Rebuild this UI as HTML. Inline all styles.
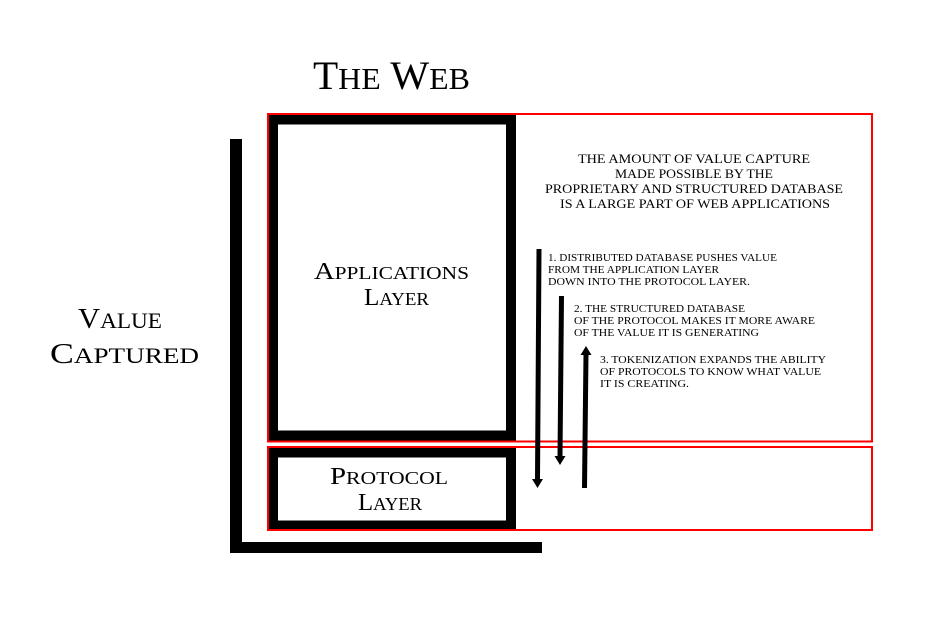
<!DOCTYPE html>
<html><head><meta charset="utf-8"><style>
html,body{margin:0;padding:0;background:#fff;}
svg{display:block;}
text{font-family:"Liberation Serif",serif;fill:#000;}
</style></head><body>
<svg width="935" height="642" viewBox="0 0 935 642" xmlns="http://www.w3.org/2000/svg">
<rect x="0" y="0" width="935" height="642" fill="#fff"/>
<text x="313" y="89" font-size="40" textLength="157" lengthAdjust="spacingAndGlyphs">T<tspan font-size="31">HE</tspan> W<tspan font-size="31">EB</tspan></text>
<text x="78" y="328" font-size="29" textLength="84" lengthAdjust="spacingAndGlyphs">V<tspan font-size="22">ALUE</tspan></text>
<text x="50" y="363" font-size="29" textLength="149" lengthAdjust="spacingAndGlyphs">C<tspan font-size="22">APTURED</tspan></text>
<rect x="230" y="139" width="12" height="414" fill="#000"/>
<rect x="230" y="542" width="312" height="11" fill="#000"/>
<rect x="273" y="119.5" width="238" height="316" fill="none" stroke="#000" stroke-width="10"/>
<rect x="273" y="452.5" width="238" height="73" fill="none" stroke="#000" stroke-width="10"/>
<rect x="268" y="114" width="604" height="327.5" fill="none" stroke="#f00" stroke-width="2"/>
<rect x="268" y="447" width="604" height="83" fill="none" stroke="#f00" stroke-width="2"/>
<text x="314" y="279" font-size="24" textLength="155" lengthAdjust="spacingAndGlyphs">A<tspan font-size="18">PPLICATIONS</tspan></text>
<text x="364" y="305" font-size="24" textLength="65" lengthAdjust="spacingAndGlyphs">L<tspan font-size="18">AYER</tspan></text>
<text x="330" y="484" font-size="24" textLength="118" lengthAdjust="spacingAndGlyphs">P<tspan font-size="18">ROTOCOL</tspan></text>
<text x="358" y="510" font-size="24" textLength="64" lengthAdjust="spacingAndGlyphs">L<tspan font-size="18">AYER</tspan></text>
<g font-size="13">
<text x="578" y="163" textLength="232" lengthAdjust="spacingAndGlyphs">THE AMOUNT OF VALUE CAPTURE</text>
<text x="615" y="178" textLength="158" lengthAdjust="spacingAndGlyphs">MADE POSSIBLE BY THE</text>
<text x="545" y="193" textLength="298" lengthAdjust="spacingAndGlyphs">PROPRIETARY AND STRUCTURED DATABASE</text>
<text x="560" y="208" textLength="270" lengthAdjust="spacingAndGlyphs">IS A LARGE PART OF WEB APPLICATIONS</text>
</g>
<g font-size="11">
<text x="548" y="261" textLength="229" lengthAdjust="spacingAndGlyphs">1. DISTRIBUTED DATABASE PUSHES VALUE</text>
<text x="548" y="273" textLength="171" lengthAdjust="spacingAndGlyphs">FROM THE APPLICATION LAYER</text>
<text x="548" y="285" textLength="202" lengthAdjust="spacingAndGlyphs">DOWN INTO THE PROTOCOL LAYER.</text>
<text x="574" y="312" textLength="171" lengthAdjust="spacingAndGlyphs">2. THE STRUCTURED DATABASE</text>
<text x="574" y="324" textLength="241" lengthAdjust="spacingAndGlyphs">OF THE PROTOCOL MAKES IT MORE AWARE</text>
<text x="574" y="336" textLength="185" lengthAdjust="spacingAndGlyphs">OF THE VALUE IT IS GENERATING</text>
<text x="600" y="363" textLength="226" lengthAdjust="spacingAndGlyphs">3. TOKENIZATION EXPANDS THE ABILITY</text>
<text x="600" y="375" textLength="221" lengthAdjust="spacingAndGlyphs">OF PROTOCOLS TO KNOW WHAT VALUE</text>
<text x="600" y="387" textLength="89" lengthAdjust="spacingAndGlyphs">IT IS CREATING.</text>
</g>
<line x1="539" y1="249" x2="537.5" y2="480" stroke="#000" stroke-width="5"/>
<polygon points="532,479 543,479 537.5,488" fill="#000"/>
<line x1="561.5" y1="296" x2="560" y2="457" stroke="#000" stroke-width="5"/>
<polygon points="554.5,456 565.5,456 560,465" fill="#000"/>
<line x1="584.5" y1="488" x2="586" y2="354" stroke="#000" stroke-width="5"/>
<polygon points="580.5,355 591.5,355 586,346" fill="#000"/>
</svg>
</body></html>
